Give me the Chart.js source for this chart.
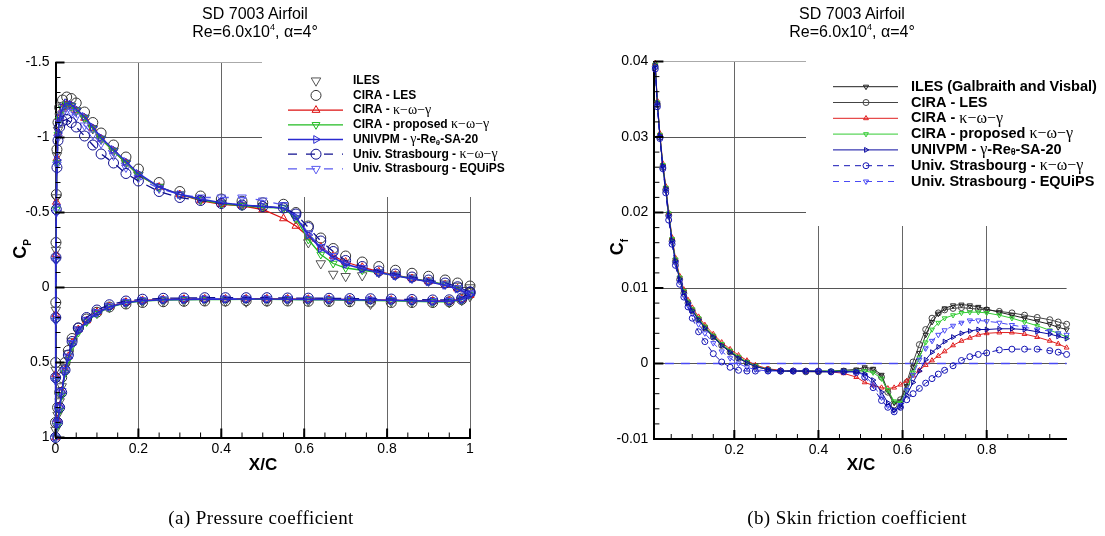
<!DOCTYPE html>
<html>
<head>
<meta charset="utf-8">
<script src="https://cdn.jsdelivr.net/npm/chart.js@4.4.1/dist/chart.umd.min.js"></script>
<style>
  body { margin: 0; background: #fff; width: 1105px; height: 536px; position: relative; overflow: hidden;
         font-family: "Liberation Sans", Arial, Helvetica, sans-serif; color: #000; }
  canvas { position: absolute; top: 0; }
  #cpChart { left: 0; }
  #cfChart { left: 552px; }
  .title { position: absolute; top: 5px; width: 300px; text-align: center; font-size: 16px; line-height: 18px; }
  .title sup { font-size: 9px; vertical-align: baseline; position: relative; top: -7px; }
  .xlab { position: absolute; top: 455px; width: 80px; text-align: center; font-weight: bold; font-size: 17px; line-height: 20px; }
  .ylab { position: absolute; width: 40px; height: 24px; text-align: center; font-weight: bold; font-size: 18px; line-height: 24px;
          transform: rotate(-90deg); }
  .ylab sub { font-size: 10px; }
  .caption { position: absolute; top: 507px; width: 400px; text-align: center; font-family: "Liberation Serif", "Times New Roman", serif;
             font-size: 19px; line-height: 22px; letter-spacing: 0.4px; }
</style>
</head>
<body>
<canvas id="cpChart" width="552" height="536"></canvas>
<canvas id="cfChart" width="553" height="536"></canvas>

<div class="title" style="left:105px">SD 7003 Airfoil<br>Re=6.0x10<sup>4</sup>, α=4°</div>
<div class="title" style="left:702px">SD 7003 Airfoil<br>Re=6.0x10<sup>4</sup>, α=4°</div>
<div class="ylab" style="left:0px;top:237px">C<sub>P</sub></div>
<div class="ylab" style="left:597px;top:235px">C<sub>f</sub></div>
<div class="xlab" style="left:223px">X/C</div>
<div class="xlab" style="left:821px">X/C</div>
<div class="caption" style="left:61px">(a) Pressure coefficient</div>
<div class="caption" style="left:657px">(b) Skin friction coefficient</div>

<script>
// ---- pressure coefficient, suction side (LE -> TE) ----
const cpXUpper = [0, 0.0003, 0.0007, 0.0012, 0.002, 0.0035, 0.006, 0.01, 0.017, 0.027, 0.038, 0.05, 0.07, 0.09, 0.11, 0.14, 0.17, 0.2, 0.25, 0.3,
                  0.35, 0.4, 0.45, 0.5, 0.55, 0.58, 0.61, 0.64, 0.67, 0.7, 0.74, 0.78, 0.82, 0.86, 0.9, 0.94, 0.97, 1.0];
const ilesCpUp   = [0.95, 0.55, 0.15, -0.25, -0.6, -0.88, -1.05, -1.14, -1.2, -1.22, -1.21, -1.18, -1.13, -1.06, -0.99, -0.91, -0.83, -0.75, -0.67, -0.62,
                    -0.585, -0.56, -0.55, -0.54, -0.53, -0.46, -0.3, -0.16, -0.09, -0.075, -0.08, -0.1, -0.085, -0.065, -0.045, -0.025, -0.01, 0.0];
const lesCpUp    = [0.9, 0.5, 0.1, -0.3, -0.62, -0.92, -1.1, -1.2, -1.25, -1.27, -1.26, -1.23, -1.17, -1.1, -1.03, -0.95, -0.87, -0.79, -0.7, -0.64,
                    -0.61, -0.59, -0.575, -0.565, -0.555, -0.5, -0.41, -0.33, -0.26, -0.21, -0.17, -0.14, -0.115, -0.095, -0.075, -0.05, -0.03, -0.01];
const kwgCpUp    = [1.0, 0.58, 0.18, -0.22, -0.57, -0.86, -1.03, -1.13, -1.19, -1.22, -1.21, -1.18, -1.13, -1.06, -0.99, -0.91, -0.83, -0.75, -0.67, -0.62,
                    -0.58, -0.555, -0.545, -0.52, -0.46, -0.41, -0.34, -0.27, -0.21, -0.17, -0.135, -0.105, -0.082, -0.06, -0.04, -0.018, 0.008, 0.05];
const propCpUp   = [1.0, 0.62, 0.22, -0.18, -0.52, -0.83, -1.02, -1.12, -1.19, -1.22, -1.21, -1.18, -1.13, -1.06, -0.99, -0.91, -0.83, -0.75, -0.67, -0.62,
                    -0.585, -0.56, -0.545, -0.535, -0.53, -0.46, -0.32, -0.22, -0.16, -0.13, -0.115, -0.1, -0.08, -0.06, -0.04, -0.02, 0.005, 0.045];
const univpmCpUp = [1.0, 0.6, 0.2, -0.2, -0.55, -0.85, -1.03, -1.13, -1.2, -1.23, -1.22, -1.19, -1.14, -1.07, -1.0, -0.92, -0.84, -0.76, -0.67, -0.62,
                    -0.59, -0.565, -0.55, -0.54, -0.53, -0.47, -0.35, -0.26, -0.2, -0.155, -0.125, -0.1, -0.078, -0.058, -0.038, -0.015, 0.01, 0.05];
const strKwgCpUp = [1.0, 0.6, 0.2, -0.2, -0.52, -0.8, -0.98, -1.07, -1.11, -1.12, -1.1, -1.07, -1.01, -0.95, -0.89, -0.83, -0.76, -0.71, -0.64, -0.6,
                    -0.58, -0.56, -0.55, -0.54, -0.53, -0.49, -0.4, -0.31, -0.24, -0.18, -0.14, -0.11, -0.09, -0.07, -0.05, -0.03, -0.005, 0.03];
const equipsCpUp = [1.0, 0.62, 0.22, -0.18, -0.5, -0.82, -1.0, -1.1, -1.16, -1.18, -1.17, -1.14, -1.08, -1.02, -0.96, -0.88, -0.8, -0.73, -0.66, -0.62,
                    -0.6, -0.6, -0.6, -0.58, -0.55, -0.48, -0.36, -0.27, -0.21, -0.16, -0.13, -0.1, -0.08, -0.06, -0.04, -0.02, 0.005, 0.04];

// ---- pressure coefficient, pressure side (LE -> TE) ----
const cpXLower = [0.005, 0.01, 0.015, 0.023, 0.031, 0.04, 0.055, 0.075, 0.1, 0.13, 0.17, 0.21, 0.26, 0.31, 0.36, 0.41, 0.46, 0.51, 0.56, 0.61,
                  0.66, 0.71, 0.76, 0.81, 0.86, 0.91, 0.95, 0.98, 1.0];
const ilesCpLo   = [0.85, 0.76, 0.66, 0.53, 0.44, 0.36, 0.28, 0.22, 0.17, 0.13, 0.105, 0.095, 0.09, 0.088, 0.087, 0.09, 0.095, 0.09, 0.085, 0.088,
                    0.09, 0.092, 0.11, 0.093, 0.095, 0.1, 0.1, 0.085, 0.06];
const lesCpLo    = [0.8, 0.7, 0.6, 0.5, 0.42, 0.34, 0.27, 0.21, 0.165, 0.13, 0.11, 0.1, 0.095, 0.092, 0.09, 0.09, 0.088, 0.09, 0.09, 0.092,
                    0.093, 0.095, 0.097, 0.1, 0.1, 0.1, 0.095, 0.08, 0.04];
const kwgCpLo    = [0.88, 0.79, 0.69, 0.55, 0.46, 0.37, 0.28, 0.22, 0.165, 0.127, 0.098, 0.086, 0.08, 0.078, 0.076, 0.076, 0.075, 0.075, 0.076, 0.078,
                    0.079, 0.08, 0.082, 0.084, 0.087, 0.09, 0.09, 0.078, 0.05];
const propCpLo   = [0.92, 0.82, 0.72, 0.57, 0.48, 0.39, 0.3, 0.23, 0.175, 0.133, 0.103, 0.09, 0.084, 0.082, 0.08, 0.08, 0.079, 0.079, 0.08, 0.082,
                    0.083, 0.085, 0.087, 0.089, 0.092, 0.096, 0.095, 0.083, 0.05];
const univpmCpLo = [0.9, 0.8, 0.7, 0.56, 0.47, 0.38, 0.29, 0.225, 0.17, 0.13, 0.1, 0.088, 0.082, 0.08, 0.078, 0.078, 0.077, 0.077, 0.078, 0.08,
                    0.08, 0.082, 0.083, 0.085, 0.088, 0.092, 0.092, 0.08, 0.05];
const strKwgCpLo = [0.9, 0.8, 0.7, 0.55, 0.45, 0.36, 0.27, 0.2, 0.15, 0.115, 0.09, 0.078, 0.072, 0.07, 0.068, 0.068, 0.068, 0.068, 0.07, 0.071,
                    0.072, 0.074, 0.075, 0.077, 0.08, 0.083, 0.082, 0.07, 0.03];
const equipsCpLo = [0.9, 0.8, 0.69, 0.55, 0.46, 0.37, 0.28, 0.215, 0.165, 0.125, 0.097, 0.085, 0.079, 0.077, 0.075, 0.075, 0.075, 0.075, 0.077, 0.078,
                    0.079, 0.08, 0.082, 0.084, 0.087, 0.09, 0.09, 0.078, 0.04];

// ---- skin friction, suction side ----
const cfX = [0.012, 0.017, 0.023, 0.03, 0.037, 0.044, 0.052, 0.06, 0.07, 0.08, 0.09, 0.1, 0.115, 0.13, 0.15, 0.17, 0.19, 0.21, 0.23, 0.25,
             0.28, 0.31, 0.34, 0.37, 0.4, 0.43, 0.46, 0.49, 0.51, 0.53, 0.55, 0.565, 0.58, 0.595, 0.61, 0.625, 0.64, 0.655, 0.67, 0.685,
             0.7, 0.72, 0.74, 0.76, 0.78, 0.8, 0.83, 0.86, 0.89, 0.92, 0.95, 0.97, 0.99];
const ilesCf   = [0.0395, 0.0345, 0.0302, 0.0262, 0.0232, 0.0198, 0.0164, 0.0137, 0.0113, 0.0095, 0.0081, 0.0071, 0.0059, 0.0048, 0.0036, 0.0025, 0.0016, 0.0008, 0.0002, -0.0003,
                  -0.0008, -0.001, -0.001, -0.001, -0.001, -0.001, -0.0009, -0.0008, -0.0005, -0.0007, -0.0015, -0.0036, -0.0052, -0.005, -0.003, -0.0005, 0.0014, 0.0038, 0.0055, 0.0066,
                  0.0073, 0.0077, 0.0078, 0.0077, 0.0075, 0.0072, 0.0068, 0.0064, 0.006, 0.0056, 0.0052, 0.0048, 0.0045];
const lesCf    = [0.0393, 0.0343, 0.03, 0.026, 0.023, 0.0196, 0.0162, 0.0135, 0.0111, 0.0093, 0.008, 0.007, 0.0058, 0.0047, 0.0035, 0.0024, 0.0015, 0.0007, 0.0001, -0.0004,
                  -0.0008, -0.001, -0.001, -0.0011, -0.0011, -0.0011, -0.001, -0.001, -0.0008, -0.0009, -0.0018, -0.0038, -0.0055, -0.0048, -0.0025, 0.0002, 0.0025, 0.0045, 0.006, 0.0067,
                  0.0071, 0.0073, 0.0074, 0.0073, 0.0072, 0.0071, 0.0069, 0.0067, 0.0064, 0.0061, 0.0058, 0.0055, 0.0052];
const kwgCf    = [0.0398, 0.0348, 0.0305, 0.0265, 0.0235, 0.02, 0.0167, 0.014, 0.0116, 0.0098, 0.0084, 0.0074, 0.0062, 0.0051, 0.0039, 0.0028, 0.0019, 0.0011, 0.0004, -0.0002,
                  -0.0007, -0.0009, -0.001, -0.001, -0.001, -0.0011, -0.0013, -0.0018, -0.0025, -0.0029, -0.0032, -0.0033, -0.0032, -0.0028, -0.0023, -0.0016, -0.0009, -0.0002, 0.0004, 0.001,
                  0.0016, 0.0024, 0.003, 0.0034, 0.0038, 0.004, 0.0041, 0.0041, 0.0039, 0.0035, 0.003, 0.0026, 0.0021];
const propCf   = [0.0396, 0.0346, 0.0303, 0.0263, 0.0233, 0.0199, 0.0165, 0.0138, 0.0114, 0.0096, 0.0082, 0.0072, 0.006, 0.0049, 0.0037, 0.0026, 0.0017, 0.0009, 0.0002, -0.0003,
                  -0.0008, -0.001, -0.001, -0.001, -0.001, -0.001, -0.001, -0.001, -0.001, -0.0012, -0.002, -0.0035, -0.005, -0.0052, -0.0035, -0.0012, 0.0008, 0.0028, 0.0045, 0.0054,
                  0.006, 0.0064, 0.0067, 0.0068, 0.0068, 0.0067, 0.0064, 0.006, 0.0055, 0.005, 0.0044, 0.004, 0.0035];
const univpmCf = [0.0395, 0.0345, 0.0302, 0.0262, 0.0232, 0.0197, 0.0163, 0.0136, 0.0112, 0.0094, 0.008, 0.007, 0.0058, 0.0047, 0.0035, 0.0024, 0.0015, 0.0007, 0.0001, -0.0004,
                  -0.0008, -0.001, -0.001, -0.001, -0.0011, -0.0011, -0.0011, -0.0011, -0.0014, -0.0022, -0.0038, -0.0052, -0.0062, -0.0058, -0.0042, -0.0025, -0.001, 0.0005, 0.0015, 0.0022,
                  0.0029, 0.0035, 0.004, 0.0043, 0.0045, 0.0045, 0.0046, 0.0046, 0.0045, 0.0042, 0.0039, 0.0036, 0.0033];
const strKwgCf = [0.039, 0.034, 0.0298, 0.0258, 0.0226, 0.019, 0.0158, 0.013, 0.0105, 0.0088, 0.0075, 0.006, 0.0042, 0.0029, 0.0013, 0.0002, -0.0005, -0.0009, -0.001, -0.001,
                  -0.001, -0.001, -0.001, -0.001, -0.001, -0.0011, -0.0011, -0.0012, -0.0018, -0.0032, -0.0049, -0.0058, -0.0064, -0.0058, -0.0048, -0.004, -0.0033, -0.0026, -0.002, -0.0014,
                  -0.0009, -0.0003, 0.0004, 0.0009, 0.0012, 0.0014, 0.0018, 0.0019, 0.0019, 0.0019, 0.0017, 0.0015, 0.0012];
const equipsCf = [0.0392, 0.0342, 0.03, 0.026, 0.0229, 0.0194, 0.016, 0.0133, 0.0108, 0.009, 0.0077, 0.0066, 0.0052, 0.004, 0.0027, 0.0016, 0.0007, 0.0, -0.0005, -0.0008,
                  -0.001, -0.001, -0.001, -0.001, -0.001, -0.0011, -0.0011, -0.0011, -0.0016, -0.0028, -0.0045, -0.0056, -0.0062, -0.0055, -0.0035, -0.0015, 0.0005, 0.002, 0.003, 0.0038,
                  0.0044, 0.005, 0.0054, 0.0057, 0.0057, 0.0056, 0.0054, 0.0051, 0.0048, 0.0045, 0.0043, 0.004, 0.0038];
const cfZeroX = [0.035, 0.99];
const cfZeroY = [0, 0];

// ---- axes ----
const cpXTicks = [0, 0.2, 0.4, 0.6, 0.8, 1];
const cpXLabels = ['0', '0.2', '0.4', '0.6', '0.8', '1'];
const cpYTicks = [-1.5, -1, -0.5, 0, 0.5, 1];
const cpYLabels = ['-1.5', '-1', '-0.5', '0', '0.5', '1'];
const cfXTicks = [0.2, 0.4, 0.6, 0.8];
const cfXLabels = ['0.2', '0.4', '0.6', '0.8'];
const cfYTicks = [-0.01, 0, 0.01, 0.02, 0.03, 0.04];
const cfYLabels = ['-0.01', '0', '0.01', '0.02', '0.03', '0.04'];

// ---- legend texts: [text, kind]  kind: undefined = bold, 'g' = greek, 's' = subscript ----
const cpLegendLabels = [
    [['ILES']],
    [['CIRA - LES']],
    [['CIRA - '], ['κ−ω−γ', 'g']],
    [['CIRA - proposed '], ['κ−ω−γ', 'g']],
    [['UNIVPM - '], ['γ', 'g'], ['-Re'], ['θ', 's'], ['-SA-20']],
    [['Univ. Strasbourg - '], ['κ−ω−γ', 'g']],
    [['Univ. Strasbourg - EQUiPS']]
];
const cfLegendLabels = [
    [['ILES (Galbraith and Visbal)']],
    [['CIRA - LES']],
    [['CIRA - '], ['κ−ω−γ', 'g']],
    [['CIRA - proposed '], ['κ−ω−γ', 'g']],
    [['UNIVPM - '], ['γ', 'g'], ['-Re'], ['θ', 's'], ['-SA-20']],
    [['Univ. Strasbourg - '], ['κ−ω−γ', 'g']],
    [['Univ. Strasbourg - EQUiPS']]
];

const SANS = '"Liberation Sans", Arial, Helvetica, sans-serif';
const SERIF = '"Liberation Serif", "Times New Roman", serif';
Chart.defaults.font.family = SANS;

function cpLoop(upper, lower) {
    const pts = [];
    for (let i = cpXUpper.length - 1; i >= 0; i--) pts.push({x: cpXUpper[i], y: upper[i]});
    cpXLower.forEach((x, i) => pts.push({x: x, y: lower[i]}));
    return pts;
}

function cfLine(xs, values) {
    return xs.map((x, i) => ({x: x, y: values[i]}));
}

function makeSet(label, parts, data, color, marker, rot, radius, showLine, width, dash, order) {
    return {
        label: label,
        legendParts: parts,
        data: data,
        showLine: showLine,
        borderColor: color,
        borderWidth: width,
        borderDash: dash || [],
        pointStyle: marker,
        pointRotation: rot,
        pointRadius: radius,
        pointBorderColor: color,
        pointBackgroundColor: 'rgba(0,0,0,0)',
        pointBorderWidth: 1,
        pointHoverRadius: radius,
        tension: 0,
        clip: false,
        order: order
    };
}

function drawMarker(ctx, ds, x, y) {
    ctx.strokeStyle = ds.pointBorderColor;
    ctx.fillStyle = 'rgba(0,0,0,0)';
    ctx.lineWidth = ds.pointBorderWidth;
    ctx.setLineDash([]);
    Chart.helpers.drawPoint(ctx, {pointStyle: ds.pointStyle, rotation: ds.pointRotation, radius: ds.pointRadius, borderWidth: ds.pointBorderWidth}, x, y);
}

// legend drawn inside the plot, on a white box that hides the grid
const legendBox = {
    id: 'legendBox',
    afterDatasetsDraw(chart, args, o) {
        const ctx = chart.ctx;
        ctx.save();
        ctx.fillStyle = '#fff';
        ctx.fillRect(o.box[0], o.box[1], o.box[2], o.box[3]);
        let row = 0;
        chart.data.datasets.forEach(ds => {
            if (!ds.legendParts) return;
            const y = o.y0 + row * o.dy;
            row++;
            if (ds.showLine) {
                ctx.strokeStyle = ds.borderColor;
                ctx.lineWidth = ds.borderWidth;
                ctx.setLineDash(ds.borderDash);
                ctx.beginPath();
                ctx.moveTo(o.x1, y);
                ctx.lineTo(o.x2, y);
                ctx.stroke();
            }
            drawMarker(ctx, ds, o.mx, y);
            let x = o.tx;
            ctx.fillStyle = '#000';
            ctx.textBaseline = 'middle';
            ctx.textAlign = 'left';
            ds.legendParts.forEach(p => {
                let dy = 0;
                if (p[1] === 'g') ctx.font = o.greek + 'px ' + SERIF;
                else if (p[1] === 's') { ctx.font = 'bold ' + o.sub + 'px ' + SANS; dy = 3; }
                else ctx.font = 'bold ' + o.size + 'px ' + SANS;
                ctx.fillText(p[0], x, y + dy);
                x += ctx.measureText(p[0]).width;
            });
        });
        ctx.restore();
    }
};

// ticks pointing into the plot, major and minor
const inwardTicks = {
    id: 'inwardTicks',
    afterDatasetsDraw(chart, args, o) {
        const ctx = chart.ctx, a = chart.chartArea, sx = chart.scales.x, sy = chart.scales.y;
        ctx.save();
        ctx.strokeStyle = '#000';
        const tickX = (v, len, w) => {
            const p = sx.getPixelForValue(v);
            ctx.lineWidth = w;
            ctx.beginPath(); ctx.moveTo(p, a.bottom); ctx.lineTo(p, a.bottom - len); ctx.stroke();
        };
        const tickY = (v, len, w) => {
            const p = sy.getPixelForValue(v);
            ctx.lineWidth = w;
            ctx.beginPath(); ctx.moveTo(a.left, p); ctx.lineTo(a.left + len, p); ctx.stroke();
        };
        for (let k = Math.ceil(sx.min / o.xStep - 1e-6); k * o.xStep <= sx.max + 1e-9; k++) tickX(k * o.xStep, 5, 1);
        for (let k = Math.ceil(sy.min / o.yStep - 1e-6); k * o.yStep <= sy.max + 1e-9; k++) tickY(k * o.yStep, 5, 1);
        sx.ticks.forEach(t => tickX(t.value, 9, 2));
        sy.ticks.forEach(t => tickY(t.value, 9, 2));
        ctx.restore();
    }
};

function axis(min, max, ticks, labels, extra) {
    return Object.assign({
        type: 'linear',
        min: min,
        max: max,
        afterBuildTicks: s => { s.ticks = ticks.map(v => ({value: v})); },
        grid: {color: '#666', lineWidth: 1, drawTicks: false},
        border: {display: true, color: '#000', width: 2},
        ticks: {
            autoSkip: false, maxRotation: 0, color: '#000',
            font: {family: SANS, size: 14},
            callback: (v, i) => labels[i]
        }
    }, extra);
}

// ---- (a) pressure coefficient ----
const cpSets = [
    makeSet('ILES', cpLegendLabels[0], cpLoop(ilesCpUp, ilesCpLo), '#555555', 'triangle', 180, 5.5, false, 1, null, 6),
    makeSet('CIRA - LES', cpLegendLabels[1], cpLoop(lesCpUp, lesCpLo), '#333333', 'circle', 0, 5, false, 1, null, 5),
    makeSet('CIRA - κ−ω−γ', cpLegendLabels[2], cpLoop(kwgCpUp, kwgCpLo), '#dd1111', 'triangle', 0, 4.5, true, 1.3, null, 4),
    makeSet('CIRA - proposed κ−ω−γ', cpLegendLabels[3], cpLoop(propCpUp, propCpLo), '#22bb22', 'triangle', 180, 4.5, true, 1.3, null, 3),
    makeSet('UNIVPM - γ-Reθ-SA-20', cpLegendLabels[4], cpLoop(univpmCpUp, univpmCpLo), '#2a2ad0', 'triangle', 90, 4.5, true, 1.5, null, 0),
    makeSet('Univ. Strasbourg - κ−ω−γ', cpLegendLabels[5], cpLoop(strKwgCpUp, strKwgCpLo), '#101090', 'circle', 0, 5, true, 1.3, [9, 9], 1),
    makeSet('Univ. Strasbourg - EQUiPS', cpLegendLabels[6], cpLoop(equipsCpUp, equipsCpLo), '#5a5af0', 'triangle', 180, 5, true, 1.3, [9, 9], 2)
];

new Chart(document.getElementById('cpChart'), {
    type: 'scatter',
    data: {datasets: cpSets},
    options: {
        responsive: false,
        animation: false,
        events: [],
        layout: {padding: {left: 0, right: 82, top: 62.5, bottom: 68.5}},
        plugins: {
            legend: {display: false},
            tooltip: {enabled: false},
            legendBox: {box: [262, 50, 290, 147], y0: 80.7, dy: 14.7, x1: 288, x2: 343, mx: 316, tx: 353, size: 12, greek: 14, sub: 8},
            inwardTicks: {xStep: 0.05, yStep: 0.1}
        },
        scales: {
            x: axis(0, 1, cpXTicks, cpXLabels, {
                afterFit: s => { s.height = 30; }
            }),
            y: axis(-1.5, 1, cpYTicks, cpYLabels, {
                reverse: true,
                afterFit: s => { s.width = 55.5; },
                grid: {color: c => (c.tick && c.tick.value === -1.5) ? '#aaaaaa' : '#555555', lineWidth: 1, drawTicks: false}
            })
        }
    },
    plugins: [legendBox, inwardTicks]
});
// keep tick label spacing close to the figure
Chart.getChart('cpChart').options.scales.x.ticks.padding = 3;
Chart.getChart('cpChart').options.scales.y.ticks.padding = 6;
Chart.getChart('cpChart').update();

// ---- (b) skin friction coefficient ----
const cfSets = [
    makeSet('ILES (Galbraith and Visbal)', cfLegendLabels[0], cfLine(cfX, ilesCf), '#222222', 'triangle', 180, 3, true, 1, null, 5),
    makeSet('CIRA - LES', cfLegendLabels[1], cfLine(cfX, lesCf), '#444444', 'circle', 0, 3, true, 1, null, 6),
    makeSet('CIRA - κ−ω−γ', cfLegendLabels[2], cfLine(cfX, kwgCf), '#e02020', 'triangle', 0, 2.8, true, 1, null, 4),
    makeSet('CIRA - proposed κ−ω−γ', cfLegendLabels[3], cfLine(cfX, propCf), '#33cc33', 'triangle', 180, 2.8, true, 1, null, 3),
    makeSet('UNIVPM - γ-Reθ-SA-20', cfLegendLabels[4], cfLine(cfX, univpmCf), '#0a0aa0', 'triangle', 90, 2.8, true, 1, null, 0),
    makeSet('Univ. Strasbourg - κ−ω−γ', cfLegendLabels[5], cfLine(cfX, strKwgCf), '#1515b5', 'circle', 0, 3, true, 1, [6, 5], 1),
    makeSet('Univ. Strasbourg - EQUiPS', cfLegendLabels[6], cfLine(cfX, equipsCf), '#4a4af5', 'triangle', 180, 3, true, 1, [6, 5], 2),
    makeSet('zero', null, cfLine(cfZeroX, cfZeroY), '#4a4af5', 'circle', 0, 0, true, 1.3, [9, 7], 7)
];

new Chart(document.getElementById('cfChart'), {
    type: 'scatter',
    data: {datasets: cfSets},
    options: {
        responsive: false,
        animation: false,
        events: [],
        layout: {padding: {left: 0, right: 38.4, top: 61.5, bottom: 67}},
        plugins: {
            legend: {display: false},
            tooltip: {enabled: false},
            legendBox: {box: [254, 50, 299, 176], y0: 86.7, dy: 15.8, x1: 281, x2: 346, mx: 314, tx: 359, size: 14.5, greek: 16, sub: 9},
            inwardTicks: {xStep: 0.05, yStep: 0.002}
        },
        scales: {
            x: axis(0.01, 0.99, cfXTicks, cfXLabels, {
                afterFit: s => { s.height = 30; }
            }),
            y: axis(-0.01, 0.04, cfYTicks, cfYLabels, {
                afterFit: s => { s.width = 102.4; },
                grid: {color: c => (c.tick && c.tick.value === 0.04) ? '#aaaaaa' : '#555555', lineWidth: 1, drawTicks: false}
            })
        }
    },
    plugins: [legendBox, inwardTicks]
});
Chart.getChart('cfChart').options.scales.x.ticks.padding = 3;
Chart.getChart('cfChart').options.scales.y.ticks.padding = 6;
Chart.getChart('cfChart').update();
</script>
</body>
</html>
